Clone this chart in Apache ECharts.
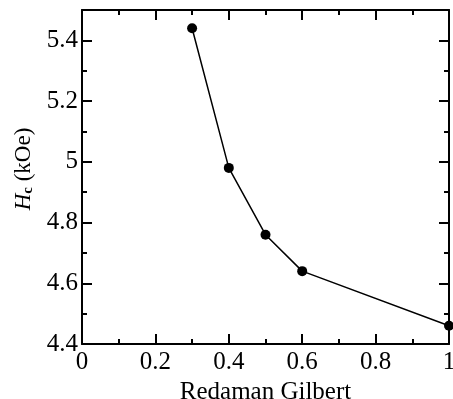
<!DOCTYPE html>
<html>
<head>
<meta charset="utf-8">
<script src="https://cdn.jsdelivr.net/npm/echarts@6/dist/echarts.min.js"></script>
<style>
  html, body { margin: 0; padding: 0; background: #fff; }
  #chart { width: 453px; height: 399px; }
</style>
</head>
<body>
<div id="chart"></div>
<script>
// damping values (Redaman Gilbert) vs coercivity
const damping = [0.3, 0.4, 0.5, 0.6, 1.0];
const coercivity = [5.44, 4.98, 4.76, 4.64, 4.46];

const font = "'Liberation Serif', 'Times New Roman', serif";

const chart = echarts.init(document.getElementById("chart"));

function ticks() {
  return {
    axisLine: { show: true, onZero: false, lineStyle: { color: "#000", width: 2 } },
    axisTick: { show: true, inside: true, length: 10, lineStyle: { color: "#000", width: 2 } },
    minorTick: { show: true, splitNumber: 2, length: 5, lineStyle: { color: "#000", width: 2 } },
    splitLine: { show: false },
    minorSplitLine: { show: false },
  };
}

chart.setOption({
  animation: false,
  grid: { left: 82, right: 4, top: 10, bottom: 55, containLabel: false, outerBoundsMode: "none" },
  xAxis: [
    {
      type: "value",
      min: 0,
      max: 1,
      interval: 0.2,
      position: "bottom",
      name: "Redaman Gilbert",
      nameLocation: "middle",
      nameGap: 26,
      nameTextStyle: { fontFamily: font, fontSize: 25, color: "#000" },
      axisLabel: { fontFamily: font, fontSize: 25, color: "#000", margin: 6 },
      ...ticks(),
    },
    {
      type: "value",
      min: 0,
      max: 1,
      interval: 0.2,
      position: "top",
      axisLabel: { show: false },
      ...ticks(),
    },
  ],
  yAxis: [
    {
      type: "value",
      min: 4.4,
      max: 5.5,
      interval: 0.2,
      position: "left",
      name: "{i|H}{s|c} (kOe)",
      nameLocation: "middle",
      nameRotate: 90,
      nameGap: 46,
      nameTextStyle: {
        fontFamily: font,
        fontSize: 23,
        color: "#000",
        padding: [0, 0, 0, 16],
        rich: {
          i: { fontFamily: font, fontSize: 23, fontStyle: "italic", color: "#000" },
          s: { fontFamily: font, fontSize: 15, fontWeight: "bold", color: "#000", verticalAlign: "bottom", padding: [9, 0, 0, 0] },
        },
      },
      axisLabel: {
        fontFamily: font,
        fontSize: 25,
        color: "#000",
        margin: 4,
        showMaxLabel: false,
      },
      ...ticks(),
    },
    {
      type: "value",
      min: 4.4,
      max: 5.5,
      interval: 0.2,
      position: "right",
      axisLabel: { show: false },
      ...ticks(),
    },
  ],
  series: [
    {
      type: "line",
      xAxisIndex: 0,
      yAxisIndex: 0,
      data: damping.map((d, i) => [d, coercivity[i]]),
      symbol: "circle",
      symbolSize: 10,
      lineStyle: { color: "#000", width: 1.5 },
      itemStyle: { color: "#000" },
    },
  ],
});
</script>
</body>
</html>
